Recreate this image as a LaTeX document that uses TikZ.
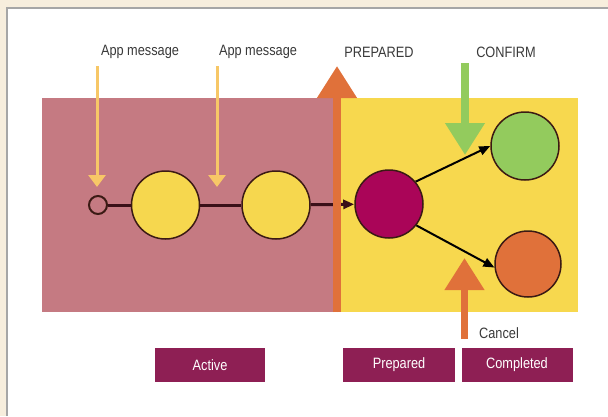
\documentclass[tikz,border=0pt]{standalone}
\usepackage{fontspec}
\usetikzlibrary{arrows.meta}
\newfontfamily\condsans[FakeStretch=0.85]{Liberation Sans}

\definecolor{cream}{HTML}{F7EEDD}
\definecolor{framegrey}{HTML}{A6A6A6}
\definecolor{activebg}{HTML}{C57A82}
\definecolor{preparedbg}{HTML}{F7D84E}
\definecolor{stateyellow}{HTML}{F6D74E}
\definecolor{statemagenta}{HTML}{AA0558}
\definecolor{stategreen}{HTML}{93CB5D}
\definecolor{stateorange}{HTML}{E0713A}
\definecolor{msgarrow}{HTML}{F7C767}
\definecolor{outline}{HTML}{3B1A14}
\definecolor{flowline}{HTML}{3A1018}
\definecolor{phasebox}{HTML}{8E1F54}
\definecolor{labelgrey}{HTML}{3A3A3A}

\tikzset{
  lbl/.style={font=\condsans\fontsize{15}{15}\selectfont, text=labelgrey, inner sep=0pt},
  phase/.style={fill=phasebox, text=white, font=\condsans\fontsize{15}{15}\selectfont,
                minimum width=110pt, minimum height=34pt, inner sep=0pt},
  state/.style={circle, draw=outline, line width=1.5pt, minimum size=68pt, inner sep=0pt},
  startstate/.style={circle, draw=outline, line width=2pt, minimum size=18pt, inner sep=0pt},
  flow/.style={draw=flowline, line width=3pt},
  branch/.style={draw=black, line width=2pt, -{Triangle[length=11pt,width=9pt]}},
  msg/.style={draw=msgarrow, line width=3pt, -{Triangle[length=12pt,width=17pt]}},
  bigarrow/.style={line width=7.5pt, -{Triangle[length=32pt,width=38pt]}},
}

\begin{document}
\begin{tikzpicture}[x=1pt, y=-1pt]
  \useasboundingbox (0,0) rectangle (608,416);

  % page background and panel with its frame on the left and top
  \fill[cream] (0,0) rectangle (608,416);
  \fill[white] (7,8) rectangle (608,416);
  \draw[framegrey, line width=2pt] (7,416) -- (7,8) -- (608,8);

  % phase regions
  \fill[activebg] (42,98) rectangle (337,312);
  \fill[preparedbg] (337,98) rectangle (578,312);

  % states
  \node[startstate] (s0) at (98,205) {};
  \node[state, fill=stateyellow] (y1) at (165.5,205) {};
  \node[state, fill=stateyellow] (y2) at (276,205) {};
  \node[state, fill=statemagenta] (m) at (389,204) {};
  \node[state, fill=stategreen] (g) at (525,146) {};
  \node[state, fill=stateorange, minimum size=66pt] (o) at (528,264) {};

  % transitions
  \draw[flow] (s0) -- (y1);
  \draw[flow] (y1) -- (y2);
  \draw[flow, -{Triangle[length=11pt,width=9pt]}] (y2) -- (m);
  \draw[branch] (m.40) -- (g.180);
  \draw[branch] (m.-38) -- (o.186);

  % labels
  \node[lbl] (lm1) at (140,52) {App message};
  \node[lbl] (lm2) at (258,52) {App message};
  \node[lbl] (lprep) at (379,52) {PREPARED};
  \node[lbl] (lconf) at (506,52) {CONFIRM};
  \node[lbl, anchor=west] (lcanc) at (479,333) {Cancel};

  % incoming application messages
  \coordinate (m1top) at (97,66);
  \coordinate (m1tip) at (97,187);
  \coordinate (m2top) at (217,66);
  \coordinate (m2tip) at (217,187);
  \draw[msg] (m1top) -- (m1tip);
  \draw[msg] (m2top) -- (m2tip);

  % protocol signals
  \coordinate (prepbase) at (337,312);
  \coordinate (preptip) at (337,66);
  \coordinate (confbase) at (465,63);
  \coordinate (conftip) at (465,155);
  \coordinate (cancbase) at (464.5,339);
  \coordinate (canctip) at (464.5,258);
  \draw[bigarrow, draw=stateorange, fill=stateorange] (prepbase) -- (preptip);
  \draw[bigarrow, draw=stategreen, fill=stategreen] (confbase) -- (conftip);
  \draw[bigarrow, draw=stateorange, fill=stateorange] (cancbase) -- (canctip);

  % phase captions
  \node[phase] (pa) at (210,365) {Active};
  \node[phase, minimum width=112pt] (pp) at (399,365) {Prepared};
  \node[phase, minimum width=111pt] (pc) at (517,364.5) {Completed};
\end{tikzpicture}
\end{document}
